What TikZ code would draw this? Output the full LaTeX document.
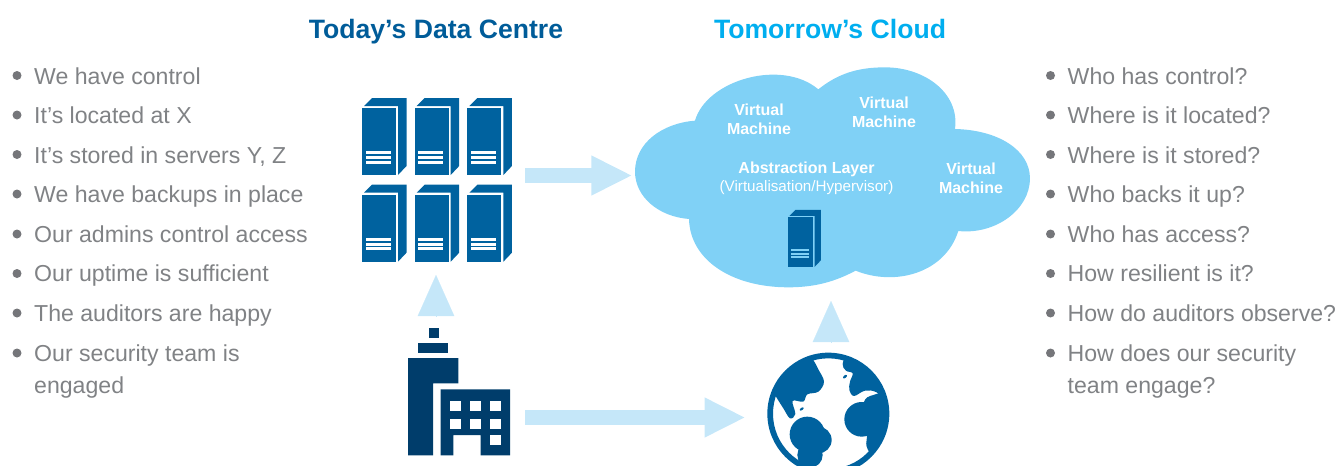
\documentclass[tikz,border=0pt]{standalone}
\usepackage{fontspec}
\setmainfont{Liberation Sans}
\usetikzlibrary{arrows.meta}
\definecolor{srvblue}{HTML}{00629F}
\definecolor{bldblue}{HTML}{003D6B}
\definecolor{cloudblue}{HTML}{80D1F6}
\definecolor{arrowblue}{HTML}{C5E7F9}
\definecolor{todaytitle}{HTML}{005C99}
\definecolor{cloudtitle}{HTML}{00AEEF}
\definecolor{bodygrey}{HTML}{808285}
\definecolor{dotgrey}{HTML}{75767A}
\tikzset{
  x=1pt,y=-1pt,
  item/.style={anchor=base west,inner sep=0pt,text=bodygrey,font=\fontsize{23.1}{32}\selectfont,align=left},
  dot/.style={circle,fill=dotgrey,inner sep=0pt,minimum size=9pt},
  heading/.style={anchor=base,inner sep=0pt,font=\fontsize{26.6}{30}\selectfont\bfseries},
  vm/.style={anchor=center,inner sep=0pt,text=white,align=center,font=\fontsize{16}{19}\selectfont\bfseries},
  wide/.style={line width=15pt,draw=arrowblue,-{Triangle[length=41pt,width=37pt,fill=arrowblue]}},
  tri/.style={line width=.1pt,draw=arrowblue,-{Triangle[length=41pt,width=36.5pt,fill=arrowblue]}},
  pics/srv/.style={code={
    \fill[srvblue] (0,0) rectangle (34,67);
    \fill[srvblue] (2,-2) -- (10,-10) -- (44.5,-10) -- (44.5,58) -- (36,67) -- (36,-2) -- cycle;
    \fill[#1] (3.7,43.3) rectangle (28.7,46);
    \fill[#1] (3.7,48) rectangle (28.7,51);
    \fill[#1] (3.7,52.7) rectangle (28.7,55.5);
  }}
}
\begin{document}
\begin{tikzpicture}
\useasboundingbox (0,0) rectangle (1336,466);

% headings
\node[heading,text=todaytitle] (t1) at (436,38.5) {Today’s Data Centre};
\node[heading,text=cloudtitle] (t2) at (830,38.5) {Tomorrow’s Cloud};

% left list
\foreach \n/\yy/\txt in {1/84/We have control,2/123/It’s located at X,3/163/{It’s stored in servers Y, Z},4/202/We have backups in place,5/242/Our admins control access,6/281/Our uptime is sufficient,7/321/The auditors are happy,8/361/Our security team is,9/393/engaged}{
  \node[item] (L\n) at (34,\yy) {\txt};
}
\foreach \n/\yy in {1/75.5,2/115,3/154.5,4/194,5/234,6/273.5,7/313,8/353}{
  \node[dot] (LD\n) at (17,\yy) {};
}
% right list
\foreach \n/\yy/\txt in {1/84/Who has control?,2/123/Where is it located?,3/163/Where is it stored?,4/202/Who backs it up?,5/242/Who has access?,6/281/How resilient is it?,7/321/How do auditors observe?,8/361/How does our security,9/393/team engage?}{
  \node[item] (R\n) at (1067.5,\yy) {\txt};
}
\foreach \n/\yy in {1/75.5,2/115,3/154.5,4/194,5/234,6/273.5,7/313,8/353}{
  \node[dot] (RD\n) at (1050.5,\yy) {};
}

% servers
\foreach \cx in {362,414.7,467.4}{
  \foreach \cy in {108,194.7}{
    \pic at (\cx,\cy) {srv=white};
  }
}

% cloud
\begin{scope}[shift={(625,60)},x=.3333pt,y=-.3333pt]
\fill[cloudblue] (210,182)
  .. controls (245,60) and (470,-5) .. (580,88)
  .. controls (640,40) and (700,22) .. (780,22)
  .. controls (900,22) and (1005,100) .. (990,207)
  .. controls (1120,210) and (1215,270) .. (1215,355)
  .. controls (1215,450) and (1110,525) .. (1000,513)
  .. controls (960,640) and (810,680) .. (692,632)
  .. controls (630,665) and (570,682) .. (490,682)
  .. controls (320,682) and (195,600) .. (192,477)
  .. controls (100,470) and (30,410) .. (30,335)
  .. controls (30,250) and (110,190) .. (210,182) -- cycle;
\end{scope}
\pic[scale=.74] at (788,217.3) {srv=cloudblue};
\node[vm] (vm1) at (759,119.5) {Virtual\\Machine};
\node[vm] (vm2) at (884,112) {Virtual\\Machine};
\node[vm] (vm3) at (971,178) {Virtual\\Machine};
\node[vm] (abs) at (806.5,169) {Abstraction Layer};
\node[anchor=center,inner sep=0pt,text=white,font=\fontsize{15.2}{18}\selectfont] (hyp) at (806.5,188) {(Virtualisation/Hypervisor)};

% building
\fill[bldblue] (429,328) rectangle (439,338);
\fill[bldblue] (418,343) rectangle (448,353);
\fill[bldblue] (408,358) -- (458.3,358) -- (458.3,383.3) -- (433,383.3) -- (433,455.3) -- (408,455.3) -- cycle;
\fill[bldblue] (440.7,389.3) -- (510,389.3) -- (510,455.3) -- (480.7,455.3) -- (480.7,435) -- (453.3,435) -- (453.3,455.3) -- (440.7,455.3) -- cycle;
\foreach \wx in {450.3,470.3,490.3}{
  \foreach \wy in {400.7,418.7}{
    \fill[white] (\wx,\wy) rectangle ++(10.4,10);
  }
}
\fill[white] (490.3,435) rectangle ++(10.4,10);

% globe
\begin{scope}[shift={(750,340)},x=.3333pt,y=-.3333pt]
\clip (0,0) rectangle (480,378);
\fill[srvblue,even odd rule] (235,221) circle[radius=183] (235,221) circle[radius=166];
\begin{scope}
\clip (235,221) circle[radius=170];
\fill[srvblue] plot[smooth cycle,tension=.6] coordinates {(190,60) (205,88) (222,125) (205,155) (172,163) (160,185) (128,183) (136,222) (120,235) (100,205) (78,170) (55,130) (90,50) (170,35)};
\fill[srvblue] plot[smooth cycle,tension=.6] coordinates {(278,72) (288,92) (308,100) (300,125) (298,150) (312,168) (345,152) (380,157) (420,190) (400,60) (300,45)};
\fill[srvblue] (335,238) circle[radius=52];
\fill[srvblue] plot[smooth cycle,tension=.6] coordinates {(340,190) (370,165) (425,165) (430,280) (375,345) (350,320) (350,285) (330,280)};
\fill[srvblue] (172,283) circle[radius=53];
\fill[srvblue] (205,300) circle[radius=40];
\fill[srvblue] (180,345) circle[radius=38];
\fill[srvblue,rotate around={35:(155,207)}] (155,207) ellipse[x radius=7,y radius=3.5];
\fill[srvblue,rotate around={40:(285,110)}] (285,110) ellipse[x radius=7,y radius=4];
\end{scope}
\end{scope}

% connectors
\coordinate (a1s) at (525,175.5);
\coordinate (a1e) at (632.3,175.5);
\coordinate (a2s) at (525,417.5);
\coordinate (a2e) at (745.5,417.5);
\coordinate (a3s) at (436,316);
\coordinate (a3e) at (436,275);
\coordinate (a4s) at (831,342);
\coordinate (a4e) at (831,301);
\draw[wide] (a1s) -- (a1e);
\draw[wide] (a2s) -- (a2e);
\draw[tri] (a3s) -- (a3e);
\draw[tri] (a4s) -- (a4e);
\end{tikzpicture}
\end{document}
